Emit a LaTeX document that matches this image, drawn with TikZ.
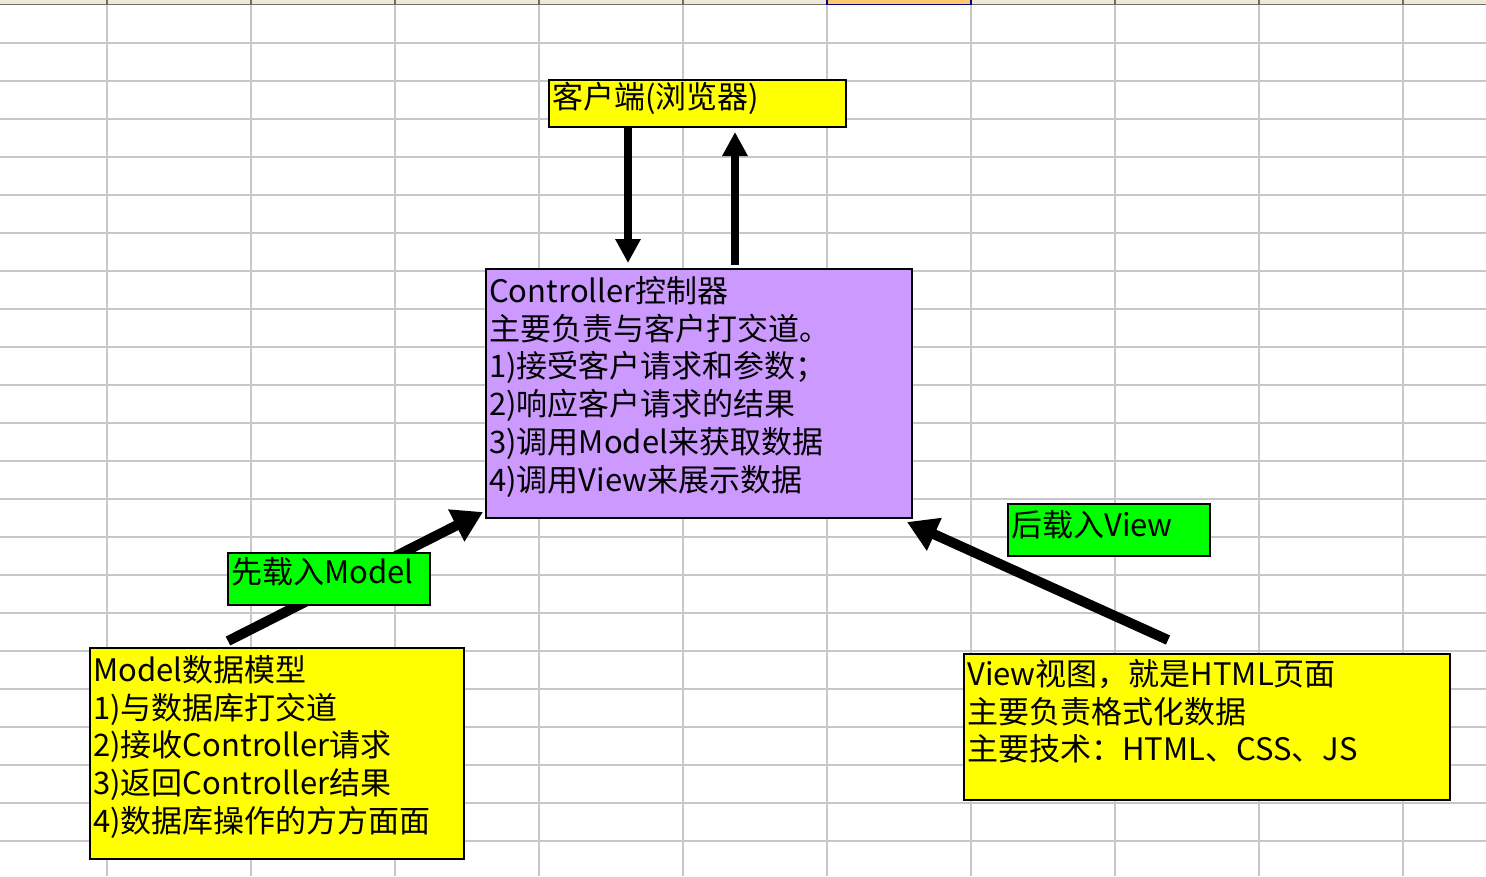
\documentclass[tikz,border=0pt]{standalone}
\usepackage{fontspec}
\newfontfamily\cjk{Noto Sans CJK SC}
\usetikzlibrary{arrows.meta,calc}

\definecolor{gridgray}{HTML}{C8C8C8}
\definecolor{headbeige}{HTML}{ECE9D8}
\definecolor{headline}{HTML}{716F64}
\definecolor{selorange}{HTML}{FFC870}
\definecolor{selblue}{HTML}{000080}
\definecolor{boxyellow}{HTML}{FFFF00}
\definecolor{boxpurple}{HTML}{CC99FF}
\definecolor{boxgreen}{HTML}{00FF00}

\tikzset{
  shapebox/.style={draw=black, line width=2pt, rectangle, inner sep=0pt, anchor=north west},
  boxtext/.style={anchor=north west, inner sep=0pt, align=left,
    font=\cjk\fontsize{31}{37.8}\selectfont},
  bigarrow/.style={line width=8pt, -{Triangle[length=24pt,width=24pt]}},
  slantarrow/.style={line width=10pt, -{Triangle[length=30pt,width=34pt]}},
}

\begin{document}
\begin{tikzpicture}[x=1pt,y=-1pt]
  \useasboundingbox (0,0) rectangle (1486,876);
  \fill[white] (0,0) rectangle (1486,876);

  % spreadsheet cell grid
  \foreach \gx in {107,251,...,1403}
    \draw[gridgray, line width=2pt] (\gx,5) -- (\gx,876);
  \foreach \gy in {43,81,...,860}
    \draw[gridgray, line width=2pt] (0,\gy) -- (1486,\gy);

  % column header strip
  \fill[headbeige] (0,0) rectangle (1486,4);
  \fill[selorange] (827,0) rectangle (971,4);
  \draw[headline, line width=1.6pt] (0,4.5) -- (827,4.5);
  \draw[headline, line width=1.6pt] (971,4.5) -- (1486,4.5);
  \draw[selblue, line width=1.6pt] (827,0) -- (827,4.5) -- (971,4.5) -- (971,0);
  \foreach \gx in {107,251,...,683,1115,1259,1403}
    \draw[headline, line width=1.2pt] (\gx,0) -- (\gx,4);

  % boxes
  \node[shapebox, fill=boxyellow, minimum width=297pt, minimum height=47pt] (client) at (548,79) {};
  \node[shapebox, fill=boxpurple, minimum width=426pt, minimum height=249pt] (ctrl) at (485,268) {};
  \node[shapebox, fill=boxyellow, minimum width=374pt, minimum height=211pt] (model) at (89,647) {};
  \node[shapebox, fill=boxyellow, minimum width=486pt, minimum height=146pt] (view) at (963,653) {};

  % connectors
  \draw[bigarrow] ($(client.south west)+(80,0)$) -- ($(ctrl.north west)+(143,-5)$);
  \draw[bigarrow] ($(ctrl.north west)+(250,-3)$) -- ($(client.south west)+(187,4)$);
  \draw[slantarrow] ($(model.north west)+(139,-6)$) -- ($(ctrl.south west)+(-2,-7)$);
  \draw[slantarrow] ($(view.north west)+(205,-13)$) -- ($(ctrl.south east)+(-6,3)$);

  % arrow labels
  \node[shapebox, fill=boxgreen, minimum width=202pt, minimum height=52pt] (loadmodel) at (227,552) {};
  \node[shapebox, fill=boxgreen, minimum width=202pt, minimum height=52pt] (loadview) at (1007,503) {};

  % texts
  \node[boxtext] (clienttxt) at (552,82) {客户端(浏览器)};
  \node[boxtext] (ctrltxt) at (489,276) {Controller控制器\\主要负责与客户打交道。\\1)接受客户请求和参数；\\2)响应客户请求的结果\\3)调用Model来获取数据\\4)调用View来展示数据};
  \node[boxtext] (modeltxt) at (93,655) {Model数据模型\\1)与数据库打交道\\2)接收Controller请求\\3)返回Controller结果\\4)数据库操作的方方面面};
  \node[boxtext] (viewtxt) at (967,659) {View视图，就是HTML页面\\主要负责格式化数据\\主要技术：HTML、CSS、JS};
  \node[boxtext] (loadmodeltxt) at (231,557) {先载入Model};
  \node[boxtext] (loadviewtxt) at (1011,510) {后载入View};
\end{tikzpicture}
\end{document}
